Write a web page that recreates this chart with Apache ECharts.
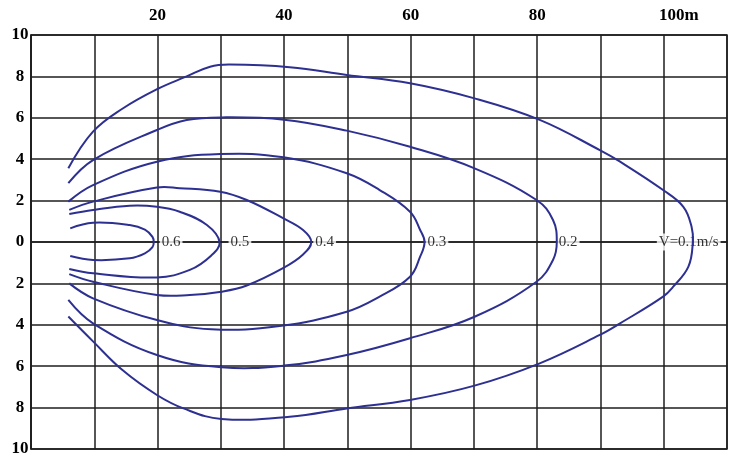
<!DOCTYPE html>
<html>
<head>
<meta charset="utf-8">
<script src="https://cdn.jsdelivr.net/npm/echarts@6/dist/echarts.min.js"></script>
<style>
  html, body { margin: 0; padding: 0; background: #fff; }
  #chart { width: 738px; height: 461px; }
</style>
</head>
<body>
<div id="chart"></div>
<script>
  // velocity contours, [distance m, lateral offset]
  const levels = ['0.6', '0.5', '0.4', '0.3', '0.2', 'V=0.1m/s']
  const v06 = [[6.2, 0.66], [9.8, 0.93], [15.6, 0.82], [18.0, 0.6], [19.2, 0.25], [19.4, 0], [19.2, -0.25],
    [18.0, -0.55], [15.6, -0.79], [9.8, -0.87], [6.2, -0.68]]
  const v05 = [[6.05, 1.35], [9.8, 1.55], [15.6, 1.75], [19.9, 1.7], [23.5, 1.46], [27.8, 0.82], [29.8, 0],
    [28.5, -0.65], [25.1, -1.35], [19.9, -1.71], [9.8, -1.51], [6.05, -1.3]]
  const v04 = [[6.05, 1.55], [9.8, 1.95], [19.9, 2.63], [23.5, 2.6], [29.9, 2.43], [34.1, 2.03], [39.9, 1.14],
    [43.0, 0.58], [44.3, 0], [43.0, -0.6], [39.9, -1.25], [34.1, -2.1], [30.1, -2.4], [25.1, -2.56],
    [19.9, -2.56], [9.8, -1.92], [6.05, -1.55]]
  const v03 = [[5.9, 1.95], [9.8, 2.75], [19.9, 3.88], [29.9, 4.25], [39.9, 4.09], [49.9, 3.32], [55.1, 2.51],
    [59.9, 1.46], [61.5, 0.58], [62.2, 0], [61.5, -0.71], [59.9, -1.68], [55.1, -2.64], [49.9, -3.37],
    [39.3, -4.06], [28.5, -4.22], [19.9, -3.77], [9.8, -2.72], [6.05, -2.0]]
  const v02 = [[5.9, 2.84], [9.8, 3.96], [19.9, 5.41], [24.6, 5.89], [30.1, 6.02], [40, 5.91], [49.9, 5.38],
    [59.9, 4.6], [70.1, 3.56], [79.9, 2.03], [82.5, 1.06], [83.1, 0], [82.5, -0.87],
    [79.9, -1.92], [70.1, -3.61], [59.9, -4.65], [49.9, -5.46], [40, -5.97], [30.1, -6.05],
    [19.9, -5.46], [9.8, -3.93], [5.9, -2.8]]
  const v01 = [[5.9, 3.56], [9.8, 5.33], [14.5, 6.45], [19.9, 7.38], [24.6, 8.0], [28.3, 8.47], [31.4, 8.57],
    [40.9, 8.44], [49.9, 8.07], [59.9, 7.67], [70.1, 6.94], [80.4, 5.9], [89.9, 4.44], [93.1, 3.88],
    [99.9, 2.51], [103.1, 1.7], [104.4, 0.74], [104.6, 0], [103.9, -1.19], [101.5, -2.16], [99.9, -2.64],
    [93.1, -3.93], [89.9, -4.49], [80.4, -5.86], [70.1, -6.94], [59.9, -7.63], [49.9, -8.04], [40.9, -8.44],
    [30.1, -8.55], [24.1, -8.04], [19.9, -7.39], [14.5, -6.2], [9.8, -4.8], [5.9, -3.6]]
  const contours = [v06, v05, v04, v03, v02, v01]

  const xLabelValues = [20, 40, 60, 80, 100]
  const xLabelTexts = ['20', '40', '60', '80', '100m']

  const lineColor = '#2d3091'
  const gridColor = '#1e1e1e'
  const labelFont = '"Liberation Serif", "DejaVu Serif", serif'
  // px shift of each contour label from the contour tip
  const labelShift = [6, 9, 2, 1, 0, -36]

  const chart = echarts.init(document.getElementById('chart'))

  const series = []
  contours.forEach(function (pts, i) {
    series.push({
      name: levels[i],
      type: 'custom',
      data: pts,
      z: 3,
      silent: true,
      renderItem: function (params, api) {
        // whole contour drawn once, as one smooth open curve
        if (params.dataIndex !== 0) return null
        return {
          type: 'polyline',
          shape: { points: pts.map(function (p) { return api.coord(p) }), smooth: 0.4 },
          style: { stroke: lineColor, lineWidth: 2, fill: null }
        }
      }
    })
  })
  // labels sit on the tip of each contour
  series.push({
    type: 'scatter',
    symbolSize: 0,
    z: 1,
    silent: true,
    data: contours.map(function (pts, i) {
      const tip = pts.reduce(function (a, b) { return b[0] > a[0] ? b : a })
      return {
        value: [tip[0], 0],
        label: { offset: [labelShift[i], 0], formatter: levels[i] }
      }
    }),
    label: {
      show: true,
      position: 'inside',
      align: 'left',
      verticalAlign: 'middle',
      color: '#000',
      fontFamily: labelFont,
      fontSize: 15,
      backgroundColor: '#fff',
      padding: [1, 2]
    }
  })

  chart.setOption({
    animation: false,
    grid: {
      left: 31, right: 11, top: 35, bottom: 12,
      show: true, borderColor: gridColor, borderWidth: 1.5
    },
    xAxis: {
      type: 'value',
      position: 'top',
      min: 0, max: 110, interval: 10,
      axisLine: { show: true, lineStyle: { color: gridColor, width: 1.5 } },
      axisTick: { show: false },
      splitLine: { show: true, lineStyle: { color: gridColor, width: 1.5 } },
      axisLabel: {
        margin: 11,
        color: '#000',
        fontFamily: labelFont,
        fontWeight: 'bold',
        fontSize: 17,
        formatter: function (v) {
          const k = xLabelValues.indexOf(v)
          if (k < 0) return ''
          return v === 100 ? '{m|' + xLabelTexts[k] + '}' : xLabelTexts[k]
        },
        rich: {
          m: { fontFamily: labelFont, fontWeight: 'bold', fontSize: 17, color: '#000', padding: [0, 0, 0, 30] }
        }
      }
    },
    yAxis: {
      type: 'value',
      min: -10, max: 10, interval: 2,
      axisLine: { show: true, lineStyle: { color: gridColor, width: 1.5 } },
      axisTick: { show: false },
      splitLine: { show: true, lineStyle: { color: gridColor, width: 1.5 } },
      axisLabel: {
        margin: 11,
        align: 'center',
        color: '#000',
        fontFamily: labelFont,
        fontWeight: 'bold',
        fontSize: 17,
        formatter: function (v) { return String(Math.abs(v)) }
      }
    },
    series: series
  })
</script>
</body>
</html>
